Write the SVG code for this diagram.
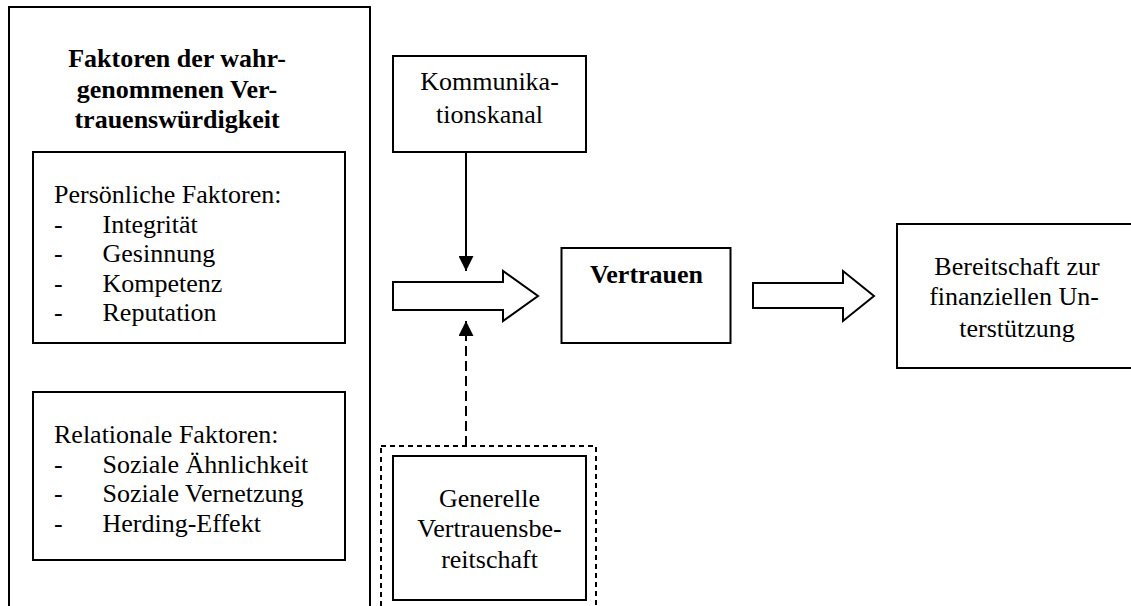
<svg xmlns="http://www.w3.org/2000/svg" width="1131" height="606" viewBox="0 0 1131 606">
<style>
.box{fill:#fff;stroke:#000;stroke-width:2}
.t{font-family:"Liberation Serif","Times New Roman",serif;font-size:26px;fill:#000}
.b{font-weight:bold;font-size:26px}
.c{text-anchor:middle}
.dash{fill:none;stroke:#000;stroke-width:2;stroke-dasharray:5 4}
.ln{stroke:#000;stroke-width:2;fill:none}
</style>
<defs>
<marker id="ah" viewBox="0 0 10 10" refX="10" refY="5" markerWidth="15" markerHeight="15" markerUnits="userSpaceOnUse" orient="auto">
<path d="M0,0 L10,5 L0,10 z" fill="#000"/>
</marker>
</defs>
<rect width="1131" height="606" fill="#fff"/>
<g id="faktoren">
<rect class="box" x="9" y="7" width="361" height="620"/>
<text class="t b c" x="177" y="67">Faktoren der wahr-</text>
<text class="t b c" x="177" y="98">genommenen Ver-</text>
<text class="t b c" x="177" y="128">trauenswürdigkeit</text>
</g>
<g id="persoenlich">
<rect class="box" x="33" y="152" width="312" height="191"/>
<text class="t" x="54" y="203">Persönliche Faktoren:</text>
<text class="t" x="54" y="232.5">-</text><text class="t" x="102.5" y="232.5">Integrität</text>
<text class="t" x="54" y="262">-</text><text class="t" x="102.5" y="262">Gesinnung</text>
<text class="t" x="54" y="291.5">-</text><text class="t" x="102.5" y="291.5">Kompetenz</text>
<text class="t" x="54" y="321">-</text><text class="t" x="102.5" y="321">Reputation</text>
</g>
<g id="relational">
<rect class="box" x="33" y="392" width="312" height="168"/>
<text class="t" x="54" y="443">Relationale Faktoren:</text>
<text class="t" x="54" y="472.5">-</text><text class="t" x="102.5" y="472.5">Soziale Ähnlichkeit</text>
<text class="t" x="54" y="502">-</text><text class="t" x="102.5" y="502">Soziale Vernetzung</text>
<text class="t" x="54" y="531.5">-</text><text class="t" x="102.5" y="531.5">Herding-Effekt</text>
</g>
<g id="kommunikation">
<rect class="box" x="393" y="56" width="193" height="96"/>
<text class="t c" x="489.5" y="90">Kommunika-</text>
<text class="t c" x="489.5" y="123">tionskanal</text>
</g>
<g id="vertrauen">
<rect class="box" x="561.5" y="248" width="169" height="95"/>
<text class="t b c" x="646.5" y="283">Vertrauen</text>
</g>
<g id="bereitschaft">
<rect class="box" x="897" y="224" width="260" height="144"/>
<text class="t c" x="1017" y="275">Bereitschaft zur</text>
<text class="t c" x="1014" y="305">finanziellen Un-</text>
<text class="t c" x="1017" y="337">terstützung</text>
</g>
<g id="generell">
<rect class="dash" x="381" y="446" width="215" height="180"/>
<rect class="box" x="393" y="456" width="193" height="144"/>
<text class="t c" x="489.5" y="507">Generelle</text>
<text class="t c" x="489.5" y="537">Vertrauensbe-</text>
<text class="t c" x="489.5" y="568">reitschaft</text>
</g>
<g id="connectors">
<line class="ln" x1="466" y1="152" x2="466" y2="271" marker-end="url(#ah)"/>
<line class="ln" x1="466" y1="446" x2="466" y2="321" stroke-dasharray="10 5" marker-end="url(#ah)"/>
<polygon class="box" points="393,282 503,282 503,271 538,296 503,321 503,310 393,310"/>
<polygon class="box" points="753,283 843,283 843,271 874,296 843,321 843,308 753,308"/>
</g>
</svg>
